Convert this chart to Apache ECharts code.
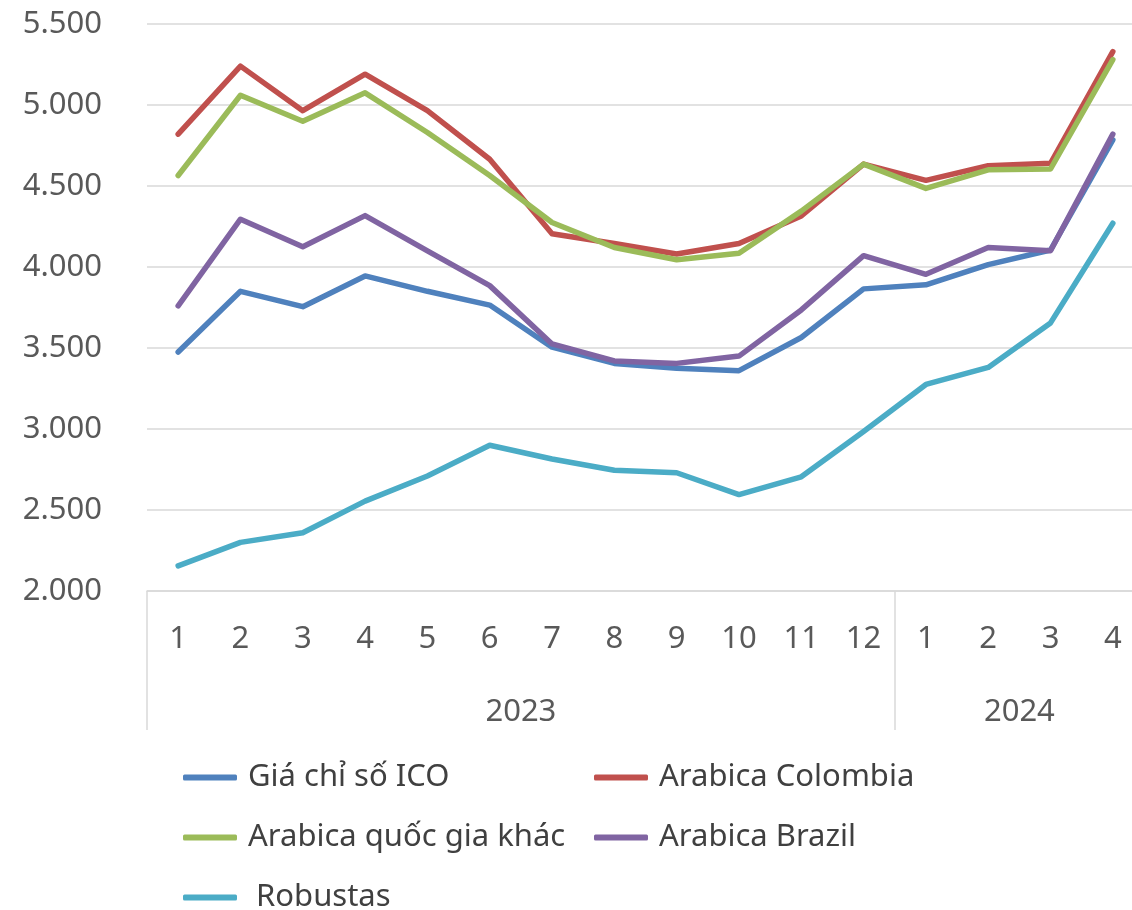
<!DOCTYPE html>
<html>
<head>
<meta charset="utf-8">
<script src="https://cdn.jsdelivr.net/npm/echarts@6/dist/echarts.min.js"></script>
<style>
	html, body { margin: 0; padding: 0; background: #fff; overflow: hidden; }
	#chart { width: 1144px; height: 910px; }
</style>
</head>
<body>
<div id="chart"></div>
<script>
	// thang
	var months = ['1', '2', '3', '4', '5', '6', '7', '8', '9', '10', '11', '12', '1', '2', '3', '4'];
	var years = ['2023', '2024'];
	var yearCenters = [6, 14];
	var yearBreaks = [0, 12];

	var icoData = [3475, 3850, 3755, 3945, 3850, 3765, 3505, 3405, 3375, 3360, 3565, 3865, 3890, 4015, 4105, 4785];
	var colombiaData = [4820, 5240, 4965, 5190, 4965, 4665, 4205, 4145, 4080, 4145, 4315, 4635, 4535, 4625, 4640, 5330];
	var otherData = [4565, 5060, 4900, 5075, 4830, 4565, 4275, 4120, 4045, 4085, 4345, 4635, 4485, 4600, 4605, 5280];
	var brazilData = [3760, 4295, 4125, 4317, 4100, 3885, 3525, 3420, 3405, 3450, 3735, 4070, 3955, 4120, 4100, 4820];
	var robustaData = [2155, 2300, 2360, 2555, 2710, 2900, 2815, 2745, 2730, 2595, 2705, 2985, 3275, 3380, 3655, 4270];

	var font = 'Noto Sans';
	var grey = '#595959';

	function fmt(v) {
		return String(v).replace(/\B(?=(\d{3})+(?!\d))/g, '.');
	}

	function line(name, color, data) {
		return {
			name: name,
			type: 'line',
			data: data,
			showSymbol: false,
			symbol: 'none',
			lineStyle: {
				color: color,
				width: 5.5,
				cap: 'round',
				join: 'round'
			},
			itemStyle: {
				color: color
			}
		};
	}

	function legendAt(left, names) {
		return {
			orient: 'vertical',
			left: left,
			top: 762,
			height: 200,
			padding: 0,
			itemWidth: 54,
			itemHeight: 6,
			itemGap: 29,
			icon: 'roundRect',
			data: names,
			formatter: function(n) {
				return n == 'Robustas' ? ' ' + n : n;
			},
			textStyle: {
				fontFamily: font,
				fontSize: 31,
				color: '#404040',
				lineHeight: 30,
				padding: [0, 0, 0, 6]
			}
		};
	}

	// khung rong hon cua so 12px: cot cuoi bi cat nhu hinh goc
	var myChart = echarts.init(document.getElementById('chart'));
	var options = {
		animation: false,
		grid: {
			left: 147,
			top: 24,
			right: 0,
			bottom: 319
		},
		legend: [
			legendAt(183, ['Giá chỉ số ICO', 'Arabica quốc gia khác', 'Robustas']),
			legendAt(594, ['Arabica Colombia', 'Arabica Brazil'])
		],
		xAxis: [{
			type: 'category',
			data: months,
			boundaryGap: true,
			axisLine: {
				show: true,
				lineStyle: {
					color: '#d9d9d9',
					width: 1.5
				}
			},
			axisTick: {
				show: false
			},
			axisLabel: {
				interval: 0,
				margin: 33,
				fontFamily: font,
				fontSize: 31,
				color: grey
			}
		}, {
			// nhom nam
			type: 'value',
			min: 0,
			max: 16,
			position: 'bottom',
			axisLine: {
				show: false
			},
			splitLine: {
				show: false
			},
			axisTick: {
				show: true,
				customValues: yearBreaks,
				length: 139,
				lineStyle: {
					color: '#d9d9d9',
					width: 1.5
				}
			},
			axisLabel: {
				customValues: yearCenters,
				margin: 106,
				fontFamily: font,
				fontSize: 31,
				color: grey,
				formatter: function(v) {
					return years[yearCenters.indexOf(v)];
				}
			}
		}],
		yAxis: {
			type: 'value',
			min: 2000,
			max: 5500,
			interval: 500,
			axisLine: {
				show: false
			},
			axisTick: {
				show: false
			},
			splitLine: {
				lineStyle: {
					color: '#d9d9d9',
					width: 1.5
				}
			},
			axisLabel: {
				margin: 45,
				fontFamily: font,
				fontSize: 31,
				color: grey,
				formatter: fmt
			}
		},
		series: [
			line('Giá chỉ số ICO', '#4f81bd', icoData),
			line('Arabica Colombia', '#c0504d', colombiaData),
			line('Arabica quốc gia khác', '#9bbb59', otherData),
			line('Arabica Brazil', '#8064a2', brazilData),
			line('Robustas', '#4bacc6', robustaData)
		]
	};
	myChart.setOption(options);
</script>
</body>
</html>
